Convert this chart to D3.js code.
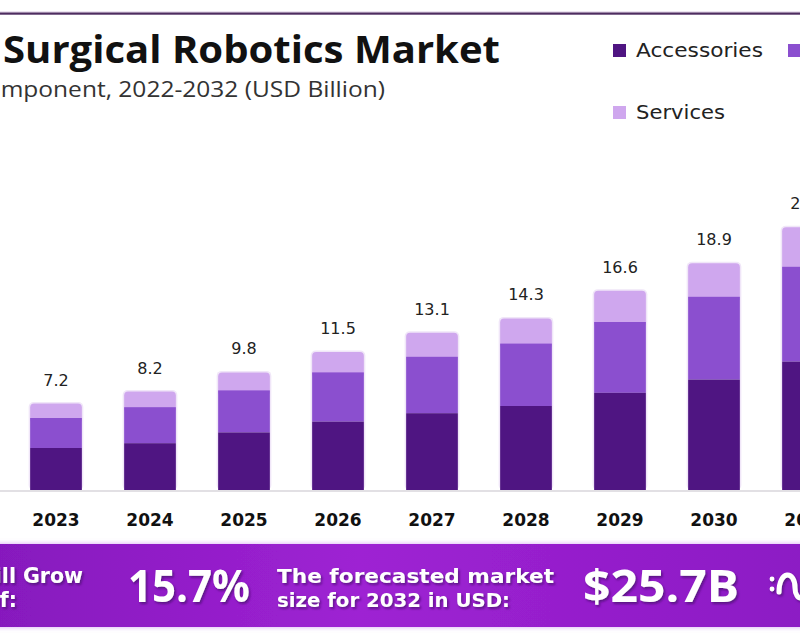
<!DOCTYPE html>
<html>
<head>
<meta charset="utf-8">
<script src="https://cdn.jsdelivr.net/npm/d3@7/dist/d3.min.js"></script>
<style>
  html, body { margin: 0; padding: 0; background: #ffffff; overflow: hidden; }
  svg { display: block; }
</style>
</head>
<body>
<svg id="chart" width="800" height="640"></svg>
<script>
// ---------- data ----------
const years = ["2022", "2023", "2024", "2025", "2026", "2027", "2028", "2029", "2030", "2031", "2032"];
const barYears = ["2023", "2024", "2025", "2026", "2027", "2028", "2029", "2030", "2031"];
const accessories = [3.5, 3.9, 4.8, 5.7, 6.4, 7.0, 8.1, 9.2, 10.7];
const systems     = [2.5, 3.0, 3.5, 4.1, 4.7, 5.2, 5.9, 6.9, 7.9];
const services    = [1.2, 1.3, 1.5, 1.7, 2.0, 2.1, 2.6, 2.8, 3.3];
const totals      = [7.2, 8.2, 9.8, 11.5, 13.1, 14.3, 16.6, 18.9, 21.9];
const seriesNames = ["Accessories", "Systems", "Services"];
const seriesColors = ["#4f1582", "#8b4fcf", "#cfa7ee"];
const titleText = "Surgical Robotics Market";
const subtitleText = "By Component, 2022-2032 (USD Billion)";
const cagrLines = ["The Market will Grow", "At the CAGR of:"];
const cagrValue = "15.7%";
const forecastLines = ["The forecasted market", "size for 2032 in USD:"];
const forecastValue = "$25.7B";

// ---------- setup ----------
const svg = d3.select("#chart");
const defs = svg.append("defs");

const grad = defs.append("linearGradient").attr("id", "bannerGrad")
  .attr("x1", "0%").attr("x2", "100%").attr("y1", "0%").attr("y2", "0%");
grad.append("stop").attr("offset", "0%").attr("stop-color", "#8619bd");
grad.append("stop").attr("offset", "45%").attr("stop-color", "#9e22d3");
grad.append("stop").attr("offset", "100%").attr("stop-color", "#8c1bc4");

const sh = defs.append("filter").attr("id", "txtShadow")
  .attr("x", "-10%").attr("y", "-20%").attr("width", "130%").attr("height", "160%");
sh.append("feDropShadow").attr("dx", 1.5).attr("dy", 2).attr("stdDeviation", 1.2)
  .attr("flood-color", "#4a0770").attr("flood-opacity", 0.75);

const glow = defs.append("filter").attr("id", "bannerGlow")
  .attr("x", "-5%").attr("y", "-20%").attr("width", "110%").attr("height", "140%");
glow.append("feDropShadow").attr("dx", 0).attr("dy", 0).attr("stdDeviation", 2.5)
  .attr("flood-color", "#c98ef0").attr("flood-opacity", 0.8);

// top rule
svg.append("rect").attr("x", 0).attr("y", 11.5).attr("width", 800).attr("height", 1)
  .attr("fill", "#d9c9e2");
svg.append("rect").attr("x", 0).attr("y", 12.5).attr("width", 800).attr("height", 2.2)
  .attr("fill", "#4e2d60");

// title
svg.append("text").text(titleText)
  .attr("x", 3).attr("y", 63)
  .attr("font-family", "'Open Sans', sans-serif").attr("font-weight", 700)
  .attr("font-size", 37).attr("fill", "#111")
  .attr("textLength", 497).attr("lengthAdjust", "spacingAndGlyphs");

svg.append("text").text(subtitleText)
  .attr("x", -64).attr("y", 97)
  .attr("font-family", "'Open Sans', sans-serif").attr("font-weight", 400)
  .attr("font-size", 21).attr("fill", "#333")
  .attr("textLength", 449).attr("lengthAdjust", "spacingAndGlyphs");

// ---------- scales ----------
const x = d3.scaleBand().domain(years).range([-85, 949])
  .paddingInner(0.45).paddingOuter(0.225);
const y = d3.scaleLinear().domain([0, 30]).range([490, 130]);
const color = d3.scaleOrdinal().domain(seriesNames).range(seriesColors);

// baseline
svg.append("line").attr("x1", 0).attr("x2", 800)
  .attr("y1", y(0) + 1).attr("y2", y(0) + 1)
  .attr("stroke", "#e2e0e4").attr("stroke-width", 2);

// ---------- bars ----------
const rows = barYears.map((yr, i) => ({
  year: yr, Accessories: accessories[i], Systems: systems[i], Services: services[i], total: totals[i]
}));
const stack = d3.stack().keys(seriesNames)(rows);

const bw = x.bandwidth();
const barG = svg.append("g");

// faint halo around each bar
barG.selectAll("rect.halo").data(rows).join("rect").attr("class", "halo")
  .attr("x", d => x(d.year) - 1.5).attr("width", bw + 3)
  .attr("y", d => y(d.total) - 1.5).attr("height", d => y(0) - y(d.total) + 1.5)
  .attr("rx", 5).attr("fill", "#f0e6f8");

[...stack].reverse().forEach(layer => {
  const isTop = layer.key === "Services";
  barG.selectAll(null).data(layer).join("rect")
    .attr("x", d => x(d.data.year))
    .attr("width", bw)
    .attr("y", d => y(d[1]))
    .attr("height", d => y(d[0]) - y(d[1]) + (isTop ? 5 : 0))
    .attr("rx", isTop ? 4 : 0)
    .attr("fill", color(layer.key));
});

// value labels
svg.append("g").selectAll("text").data(rows).join("text")
  .attr("x", d => x(d.year) + bw / 2)
  .attr("y", d => y(d.total) - 18)
  .attr("text-anchor", "middle")
  .attr("font-family", "'DejaVu Sans', sans-serif")
  .attr("font-size", 16).attr("fill", "#222")
  .text(d => d.total.toFixed(1));

// x axis labels
const xAxis = d3.axisBottom(x).tickSize(0).tickPadding(0)
  .tickValues(barYears);
const axG = svg.append("g").attr("transform", `translate(0, ${y(0) + 36})`).call(xAxis);
axG.select(".domain").remove();
axG.selectAll("text")
  .attr("dy", 0)
  .attr("font-family", "'DejaVu Sans', sans-serif")
  .attr("font-weight", 700).attr("font-size", 17).attr("fill", "#111");

// ---------- legend ----------
const legendPos = [
  { name: "Accessories", x: 613, y: 44, w: 127 },
  { name: "Systems", x: 788, y: 44, w: 88 },
  { name: "Services", x: 613, y: 106, w: 89 }
];
const lg = svg.append("g").selectAll("g").data(legendPos).join("g")
  .attr("transform", d => `translate(${d.x},${d.y})`);
lg.append("rect").attr("width", 13).attr("height", 13).attr("fill", d => color(d.name));
lg.append("text").attr("x", 23).attr("y", 13)
  .attr("font-family", "'DejaVu Sans', sans-serif").attr("font-size", 19).attr("fill", "#222")
  .attr("textLength", d => d.w).attr("lengthAdjust", "spacingAndGlyphs")
  .text(d => d.name);

// ---------- banner ----------
const banner = svg.append("g");
banner.append("rect").attr("x", -10).attr("y", 544).attr("width", 820).attr("height", 83)
  .attr("fill", "url(#bannerGrad)").attr("filter", "url(#bannerGlow)");

const bt = banner.append("g").attr("fill", "#ffffff").attr("filter", "url(#txtShadow)")
  .attr("font-family", "'DejaVu Sans', sans-serif").attr("font-weight", 700);

bt.append("text").text(cagrLines[0]).attr("x", 83).attr("y", 583)
  .attr("text-anchor", "end").attr("font-size", 20.5);
bt.append("text").text(cagrLines[1]).attr("x", 17).attr("y", 607)
  .attr("text-anchor", "end").attr("font-size", 20.5);

bt.append("text").text(cagrValue).attr("x", 128).attr("y", 602)
  .attr("font-family", "'Open Sans', sans-serif")
  .attr("font-size", 45).attr("textLength", 122).attr("lengthAdjust", "spacingAndGlyphs");

bt.append("text").text(forecastLines[0]).attr("x", 277).attr("y", 583)
  .attr("font-size", 20).attr("textLength", 277).attr("lengthAdjust", "spacingAndGlyphs");
bt.append("text").text(forecastLines[1]).attr("x", 277).attr("y", 607)
  .attr("font-size", 20).attr("textLength", 233).attr("lengthAdjust", "spacingAndGlyphs");

bt.append("text").text(forecastValue).attr("x", 583).attr("y", 602)
  .attr("font-family", "'Open Sans', sans-serif")
  .attr("font-size", 45).attr("textLength", 156).attr("lengthAdjust", "spacingAndGlyphs");

// logo squiggle (partially off-canvas)
const logo = banner.append("g").attr("filter", "url(#txtShadow)");
logo.append("circle").attr("cx", 772).attr("cy", 579).attr("r", 2.4).attr("fill", "#fff");
logo.append("circle").attr("cx", 772).attr("cy", 589).attr("r", 2.4).attr("fill", "#fff");
logo.append("path")
  .attr("d", "M779,592 C779,570 795,570 795,588 C795,602 808,602 808,584")
  .attr("fill", "none").attr("stroke", "#fff").attr("stroke-width", 5).attr("stroke-linecap", "round");
</script>
</body>
</html>
